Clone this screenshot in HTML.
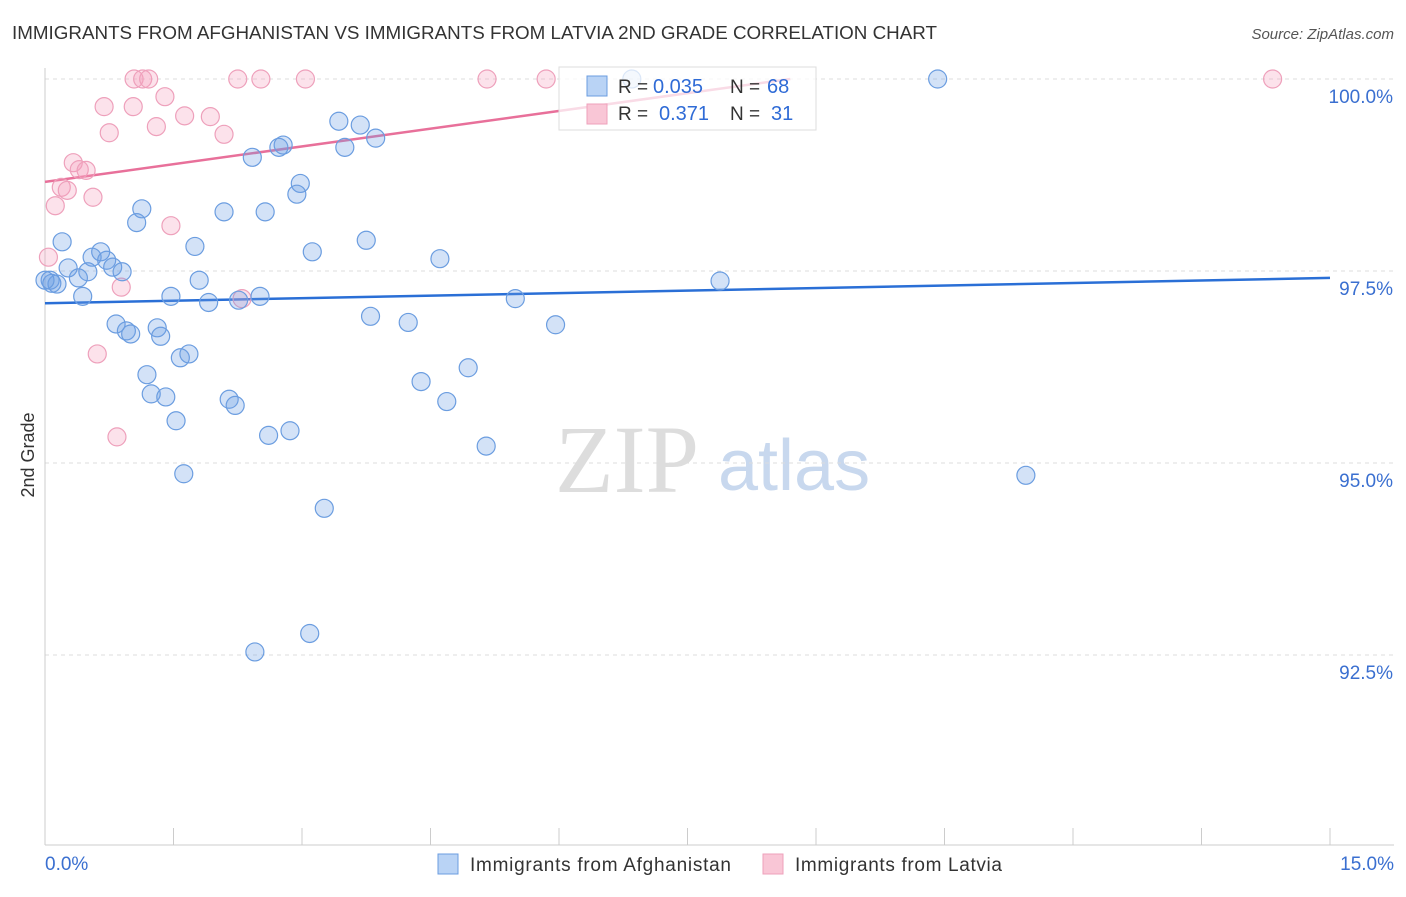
<!DOCTYPE html>
<html><head><meta charset="utf-8"><style>
body{margin:0;background:#fff;font-family:"Liberation Sans",sans-serif;}
</style></head><body>
<svg width="1406" height="892" viewBox="0 0 1406 892" xmlns="http://www.w3.org/2000/svg" font-family="Liberation Sans, sans-serif">
<text x="12" y="39" font-size="18" fill="#333" textLength="925" lengthAdjust="spacingAndGlyphs">IMMIGRANTS FROM AFGHANISTAN VS IMMIGRANTS FROM LATVIA 2ND GRADE CORRELATION CHART</text>
<text x="1394" y="39" font-size="15" fill="#555" text-anchor="end" font-style="italic">Source: ZipAtlas.com</text>
<text x="555" y="492" font-size="96" fill="#ddd" font-family="Liberation Serif, serif">ZIP</text>
<text x="718" y="490" font-size="72" fill="#c8d8ee">atlas</text>
<g id="grid"></g>
<g id="axes"></g>
<text transform="translate(34,455) rotate(-90)" font-size="18" fill="#333" text-anchor="middle">2nd Grade</text>
<text x="45" y="870" font-size="19" fill="#3a6fd0">0.0%</text>
<text x="1394" y="870" font-size="19" fill="#3a6fd0" text-anchor="end">15.0%</text>
<g id="trend"></g>
<g id="pts"></g>
<g>
<rect x="559" y="67" width="257" height="63" fill="#fff" fill-opacity="0.75" stroke="#ddd"/>
<rect x="587" y="76" width="20" height="20" fill="#b9d3f5" stroke="#6b9de0"/>
<rect x="587" y="104" width="20" height="20" fill="#f9c6d6" stroke="#eea0bb"/>
<text x="618" y="93" font-size="19" fill="#333">R =</text>
<text x="653" y="93" font-size="20" fill="#2f6bd6">0.035</text>
<text x="730" y="93" font-size="19" fill="#333">N =</text>
<text x="767" y="93" font-size="20" fill="#2f6bd6">68</text>
<text x="618" y="120" font-size="19" fill="#333">R =</text>
<text x="659" y="120" font-size="20" fill="#2f6bd6">0.371</text>
<text x="730" y="120" font-size="19" fill="#333">N =</text>
<text x="771" y="120" font-size="20" fill="#2f6bd6">31</text>
</g>
<g>
<rect x="438" y="854" width="20" height="20" fill="#b9d3f5" stroke="#6b9de0"/>
<text x="470" y="871" font-size="19" fill="#333" textLength="261">Immigrants from Afghanistan</text>
<rect x="763" y="854" width="20" height="20" fill="#f9c6d6" stroke="#eea0bb"/>
<text x="795" y="871" font-size="19" fill="#333" textLength="207">Immigrants from Latvia</text>
</g>
</svg>
<script>
const yTicks=[100,97.5,95,92.5];
const yTickLabels=["100.0%","97.5%","95.0%","92.5%"];
const blueX=[10.42,6.85,3.43,3.68,3.86,2.78,2.73,3.50,2.42,2.98,2.94,1.13,1.07,2.09,2.57,0.20,1.75,3.12,3.75,0.65,0.55,0.72,0.79,0.90,0.27,0.50,0.39,0.06,0.14,4.61,1.80,7.88,0.44,1.47,1.91,2.51,2.26,5.49,0.83,0.95,1.00,1.31,1.35,3.80,4.24,5.96,1.58,1.68,1.19,4.94,4.39,1.24,1.41,2.15,2.22,4.69,1.53,2.61,2.86,5.15,1.62,11.45,3.26,3.09,2.45,0.08,0.0];
const blueY=[100,100,99.45,99.40,99.23,99.14,99.11,99.11,98.98,98.64,98.50,98.31,98.13,98.27,98.27,97.88,97.82,97.75,97.90,97.75,97.68,97.64,97.55,97.49,97.54,97.49,97.41,97.38,97.33,97.66,97.38,97.37,97.17,97.17,97.09,97.17,97.12,97.14,96.81,96.72,96.68,96.76,96.65,96.91,96.83,96.80,96.37,96.42,96.15,96.24,96.06,95.90,95.86,95.83,95.75,95.80,95.55,95.36,95.42,95.22,94.86,94.84,94.41,92.78,92.54,97.34,97.38];
const pinkX=[1.04,1.14,1.21,2.25,2.52,3.04,5.16,5.85,14.33,1.40,0.69,1.03,1.63,1.93,1.30,0.75,2.09,0.33,0.40,0.48,0.19,0.26,0.56,0.12,1.47,0.04,0.89,2.30,0.61,0.84];
const pinkY=[100,100,100,100,100,100,100,100,100,99.77,99.64,99.64,99.52,99.51,99.38,99.30,99.28,98.91,98.82,98.81,98.59,98.55,98.46,98.35,98.09,97.68,97.29,97.14,96.42,95.34];
const blueTrend=[97.08,97.41];
const pinkTrend=[98.66,100.0];const pinkTrendEnd=[0,8.7];
const X=v=>45+v/15*1285, Y=v=>79+(100-v)/2.5*192;
const NS="http://www.w3.org/2000/svg";
function mk(t,a,p){const e=document.createElementNS(NS,t);for(const k in a)e.setAttribute(k,a[k]);document.getElementById(p).appendChild(e);return e;}
yTicks.forEach((t,i)=>{
 const l=mk('line',{x1:45,x2:1394,y1:Y(t),y2:Y(t),stroke:'#ddd','stroke-dasharray':'4,4'},'grid');
 
 
 const tx=mk('text',{x:1393,y:Y(t)+24,'font-size':19,fill:'#3a6fd0','text-anchor':'end'},'grid');
 tx.textContent=yTickLabels[i];
 
 
});
const ax=mk('line',{x1:45,x2:45,y1:68,y2:845,stroke:'#ccc'},'axes');


const bx=mk('line',{x1:45,x2:1394,y1:845,y2:845,stroke:'#ccc'},'axes');


for(let i=0;i<=10;i++){
 const t=mk('line',{x1:X(i*1.5),x2:X(i*1.5),y1:828,y2:845,stroke:'#ccc'},'axes');
 
 
}
const bt=mk('line',{x1:X(0),x2:X(15),y1:Y(blueTrend[0]),y2:Y(blueTrend[1]),stroke:'#2a6fd6','stroke-width':2.5},'trend');


const pt=mk('line',{x1:X(pinkTrendEnd[0]),x2:X(pinkTrendEnd[1]),y1:Y(pinkTrend[0]),y2:Y(pinkTrend[1]),stroke:'#e8709a','stroke-width':2.5},'trend');


pinkX.forEach((v,i)=>{
 const c=mk('circle',{cx:X(v),cy:Y(pinkY[i]),r:9,fill:'rgba(245,160,190,0.3)',stroke:'#eea0bb','stroke-width':1.2},'pts');
 
 
});
blueX.forEach((v,i)=>{
 const c=mk('circle',{cx:X(v),cy:Y(blueY[i]),r:9,fill:'rgba(110,160,230,0.3)',stroke:'#6b9de0','stroke-width':1.2},'pts');
 
 
});
</script>
</body></html>
